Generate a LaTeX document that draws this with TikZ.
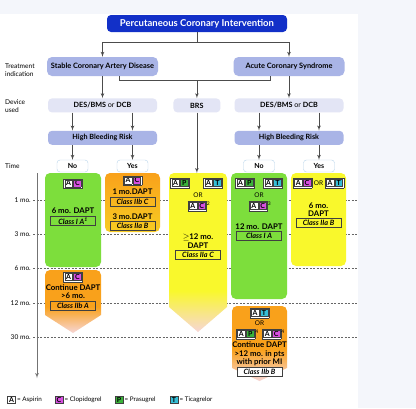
\documentclass[tikz,border=0pt]{standalone}
\usepackage{fontspec}
\setmainfont{Lato}
\usetikzlibrary{shapes,arrows,positioning}

\definecolor{pagegray}{HTML}{F4F6FB}
\definecolor{pciblue}{HTML}{1230C8}
\definecolor{levelblue}{HTML}{A9B4E6}
\definecolor{devicegray}{HTML}{E3E5F5}
\definecolor{answerblue}{HTML}{B8D4EA}
\definecolor{daptgreen}{HTML}{7DDE3C}
\definecolor{daptyellow}{HTML}{F9F82C}
\definecolor{daptorange}{HTML}{F9A11B}
\definecolor{daptgold}{HTML}{F8CC22}
\definecolor{fadepink}{HTML}{F7D6D6}
\definecolor{drugC}{HTML}{D64FE0}
\definecolor{drugP}{HTML}{3BB23B}
\definecolor{drugT}{HTML}{36BED6}

\pgfdeclareverticalshading{orangefade}{100bp}{color(0bp)=(fadepink); color(25bp)=(fadepink); color(46bp)=(daptorange); color(75bp)=(daptorange); color(100bp)=(daptorange)}
\pgfdeclareverticalshading{yellowfade}{100bp}{color(0bp)=(fadepink); color(25bp)=(fadepink); color(38bp)=(daptyellow); color(75bp)=(daptyellow); color(100bp)=(daptyellow)}

\setlength{\fboxsep}{0.6pt}
\setlength{\fboxrule}{0.5pt}
\newcommand{\drugcell}[2]{\fcolorbox{black!75}{#1}{\makebox[6pt]{\rule[-0.4pt]{0pt}{5.6pt}\bfseries #2}}}
\newcommand{\drugpair}[4]{\fcolorbox{black!75}{white}{\drugcell{#1}{#2}\hspace{0.6pt}\drugcell{#3}{#4}}}

\tikzstyle{heading} = [rectangle, fill=pciblue, text=white, rounded corners=4pt,
    minimum width=180pt, minimum height=17pt, font=\bfseries\fontsize{9.5}{11}\selectfont]
\tikzstyle{indication} = [rectangle, fill=levelblue, rounded corners=5pt,
    minimum width=111pt, minimum height=19pt, font=\bfseries\fontsize{7.4}{8}\selectfont]
\tikzstyle{device} = [rectangle, fill=devicegray, rounded corners=4pt,
    minimum width=109pt, minimum height=14pt, font=\bfseries\fontsize{7.2}{8}\selectfont]
\tikzstyle{risk} = [device, fill=levelblue]
\tikzstyle{answer} = [rectangle, draw=answerblue, fill=white, rounded corners=3pt, inner sep=0pt,
    minimum width=31pt, minimum height=12pt, font=\bfseries\fontsize{7}{8}\selectfont]
\tikzstyle{panel} = [rectangle, rounded corners=5pt, inner sep=0pt]
\tikzstyle{dapt} = [inner sep=0pt, font=\bfseries\fontsize{7.8}{8}\selectfont]
\tikzstyle{classbox} = [rectangle, draw=black!75, inner sep=0pt, minimum width=45pt,
    minimum height=9pt, font=\bfseries\itshape\fontsize{7.3}{8}\selectfont]
\tikzstyle{drugs} = [inner sep=0pt, font=\fontsize{7}{7}\selectfont]
\tikzstyle{orword} = [inner sep=0pt, font=\fontsize{6.5}{7}\selectfont]
\tikzstyle{sidelabel} = [anchor=west, align=left, inner sep=0pt, font=\fontsize{6.6}{8}\selectfont]
\tikzstyle{monthlabel} = [anchor=east, inner sep=0pt, font=\fontsize{6.6}{7}\selectfont]
\tikzstyle{legendtext} = [anchor=west, inner sep=0pt, font=\fontsize{6.3}{7}\selectfont]
\tikzstyle{timeline} = [draw=black!60, dash pattern=on 2pt off 1.5pt, line width=0.6pt]
\tikzstyle{link} = [draw=black!70, line width=0.7pt]
\tikzstyle{line} = [link, -latex']

\begin{document}
\begin{tikzpicture}[x=1pt, y=-1pt]

	\fill [pagegray] (0,0) rectangle (416,408);
	\fill [white] (0,14) rectangle (358,408);
	\useasboundingbox (0,0) rectangle (416,408);

	% decision tree
	\node [heading] (pci) at (197,23.5) {Percutaneous Coronary Intervention};
	\node [indication] (scad) at (102.5,66.5) {Stable Coronary Artery Disease};
	\node [indication] (acs) at (289,66.5) {Acute Coronary Syndrome};
	\node [device, below=22pt of scad] (desl) {DES/BMS {\mdseries or} DCB};
	\node [device, below=22pt of acs] (desr) {DES/BMS {\mdseries or} DCB};
	\node [device, minimum width=47pt, right=16pt of desl] (brs) {BRS};
	\node [risk, below=18pt of desl] (hbrl) {High Bleeding Risk};
	\node [risk, below=18pt of desr] (hbrr) {High Bleeding Risk};
	\node [answer] (nol) at (72.5,166) {No};
	\node [answer] (yesl) at (132.5,166) {Yes};
	\node [answer] (nor) at (259,166) {No};
	\node [answer] (yesr) at (319,166) {Yes};

	\node [sidelabel] (treatlabel) at (5,70) {Treatment\\indication};
	\node [sidelabel] (devicelabel) at (5,106) {Device\\used};
	\node [sidelabel] (timelabel) at (5,166) {Time};

	\coordinate (split) at (197,42);
	\path [link] (pci) -- (split);
	\path [line] (split) -| (scad);
	\path [line] (split) -| (acs);
	\path [line] (scad) -- (desl);
	\path [line] (acs) -- (desr);
	\coordinate (brsjoin) at (brs.north |- 0,80);
	\path [link] ([xshift=16.5pt]scad.south) -- ([xshift=16.5pt]scad.south |- brsjoin) -| ([xshift=-19pt]acs.south);
	\path [line] (brsjoin) -- (brs);
	\path [line] ([xshift=-30pt]desl.south) -- ([xshift=-30pt]hbrl.north);
	\path [line] ([xshift=30pt]desl.south) -- ([xshift=30pt]hbrl.north);
	\path [line] ([xshift=-30pt]desr.south) -- ([xshift=-30pt]hbrr.north);
	\path [line] ([xshift=30pt]desr.south) -- ([xshift=30pt]hbrr.north);
	\path [line] (hbrl.south -| nol) -- (nol);
	\path [line] (hbrl.south -| yesl) -- (yesl);
	\path [line] (hbrr.south -| nor) -- (nor);
	\path [line] (hbrr.south -| yesr) -- (yesr);

	% time axis
	\node [monthlabel] (onemonth) at (31,200) {1 mo.};
	\node [monthlabel] (threemonths) at (31,234) {3 mo.};
	\node [monthlabel] (sixmonths) at (31,268) {6 mo.};
	\node [monthlabel] (twelvemonths) at (31,303) {12 mo.};
	\node [monthlabel] (thirtymonths) at (31,337) {30 mo.};
	\path [timeline] (33,200) -- (358,200);
	\path [timeline] (33,234) -- (358,234);
	\path [timeline] (33,268) -- (358,268);
	\path [timeline] (33,303) -- (358,303);
	\path [timeline] (33,337) -- (358,337);
	\coordinate (axistop) at (37,173);
	\coordinate (axisend) at (37,378);
	\path [line, draw=black!55] (axistop) -- (axisend);

	% therapy panels
	\node [panel, fill=daptgreen, minimum width=56pt, minimum height=94pt] (scadno) at (73,220) {};
	\node [panel, top color=daptorange, bottom color=daptgold, minimum width=55pt, minimum height=59pt] (scadyes) at (132.5,202.5) {};
	\node [panel, fill=daptgreen, minimum width=56pt, minimum height=126pt] (acsno) at (259,236) {};
	\node [panel, fill=daptyellow, minimum width=55pt, minimum height=93pt] (acsyes) at (318.5,219.5) {};
	\shade [shading=orangefade] (45,315) [rounded corners=5pt] -- (45,270) -- (101,270) [sharp corners] -- (101,315) -- (73,333) -- cycle;
	\shade [shading=yellowfade] (169,307) [rounded corners=5pt] -- (169,173) -- (227,173) [sharp corners] -- (227,307) -- (198,332) -- cycle;
	\shade [shading=orangefade] (232,368) [rounded corners=5pt] -- (232,306) -- (287,306) [sharp corners] -- (287,368) -- (259.5,381) -- cycle;
	\coordinate (brstop) at (brs.south |- 0,173);
	\path [line] (brs) -- (brstop);

	% stable CAD, no bleeding risk
	\node [drugs] (scadnoac) at (73,183.5) {\drugpair{white}{A}{drugC}{C}};
	\node [dapt] (scadnodapt) at (73,211) {6 mo. DAPT};
	\node [classbox] (scadnoclass) at (73,221) {Class I A\textsuperscript{1}};

	% stable CAD, high bleeding risk
	\node [drugs] (scadyesac) at (132.5,180.5) {\drugpair{white}{A}{drugC}{C}};
	\node [dapt] (scadyesone) at (132.5,192) {1 mo.DAPT};
	\node [classbox] (scadyesclassone) at (132.5,202) {Class IIb C};
	\node [dapt] (scadyesthree) at (132.5,217) {3 mo.DAPT};
	\node [classbox] (scadyesclassthree) at (132.5,226) {Class IIa B};

	% stable CAD, continue
	\node [drugs] (contac) at (73,277) {\drugpair{white}{A}{drugC}{C}};
	\node [dapt] (contdapt) at (73,288) {Continue DAPT};
	\node [dapt] (contsix) at (73,295.5) {>6 mo.};
	\node [classbox] (contclass) at (73,306) {Class IIb A};

	% BRS
	\node [drugs] (brsap) at (180,183) {\drugpair{white}{A}{drugP}{P}};
	\node [drugs] (brsat) at (213,183) {\drugpair{white}{A}{drugT}{T}};
	\node [orword] (brsor) at (198,195.5) {OR};
	\node [drugs] (brsac) at (199,206) {\drugpair{white}{A}{drugC}{C}\textsuperscript{2}};
	\node [dapt] (brsmonths) at (198,237) {$\geq$12 mo.};
	\node [dapt] (brsdapt) at (198,246) {DAPT};
	\node [classbox] (brsclass) at (198,254.5) {Class IIa C};

	% ACS, no bleeding risk
	\node [drugs] (acsnoap) at (245,183) {\drugpair{white}{A}{drugP}{P}};
	\node [drugs] (acsnoat) at (273,183) {\drugpair{white}{A}{drugT}{T}};
	\node [orword] (acsnoor) at (259,195.5) {OR};
	\node [drugs] (acsnoac) at (260,206) {\drugpair{white}{A}{drugC}{C}\textsuperscript{3}};
	\node [dapt] (acsnodapt) at (259,227) {12 mo. DAPT};
	\node [classbox] (acsnoclass) at (259,236) {Class I A};

	% ACS, high bleeding risk
	\node [drugs] (acsyesdrugs) at (318.5,183) {\drugpair{white}{A}{drugC}{C}{\fontsize{6.5}{7}\selectfont{} OR }\drugpair{white}{A}{drugT}{T}};
	\node [dapt] (acsyesmonths) at (318.5,206) {6 mo.};
	\node [dapt] (acsyesdapt) at (318.5,214) {DAPT};
	\node [classbox] (acsyesclass) at (318.5,223) {Class IIa B};

	% ACS, continue
	\node [drugs] (prolat) at (259.5,313) {\drugpair{white}{A}{drugT}{T}};
	\node [orword] (prolor) at (259.5,323) {OR};
	\node [drugs] (prolap) at (247.5,334) {\drugpair{white}{A}{drugP}{P}\textsuperscript{4}};
	\node [drugs] (prolac) at (273.5,334) {\drugpair{white}{A}{drugC}{C}\textsuperscript{4}};
	\node [dapt] (proldapt) at (259.5,345) {Continue DAPT};
	\node [dapt] (prolmonths) at (259.5,354) {>12 mo. in pts};
	\node [dapt] (prolmi) at (259.5,362) {with prior MI};
	\node [classbox, fill=white] (prolclass) at (259.5,372) {Class IIb B};

	% legend
	\node [drugs] (keya) at (11.5,400) {\drugcell{white}{A}};
	\node [legendtext] (keyatext) at (17,400) {= Aspirin};
	\node [drugs] (keyc) at (59,400) {\drugcell{drugC}{C}};
	\node [legendtext] (keyctext) at (64.5,400) {= Clopidogrel};
	\node [drugs] (keyp) at (119,400) {\drugcell{drugP}{P}};
	\node [legendtext] (keyptext) at (124.5,400) {= Prasugrel};
	\node [drugs] (keyt) at (174,400) {\drugcell{drugT}{T}};
	\node [legendtext] (keyttext) at (179.5,400) {= Ticagrelor};

\end{tikzpicture}
\end{document}
